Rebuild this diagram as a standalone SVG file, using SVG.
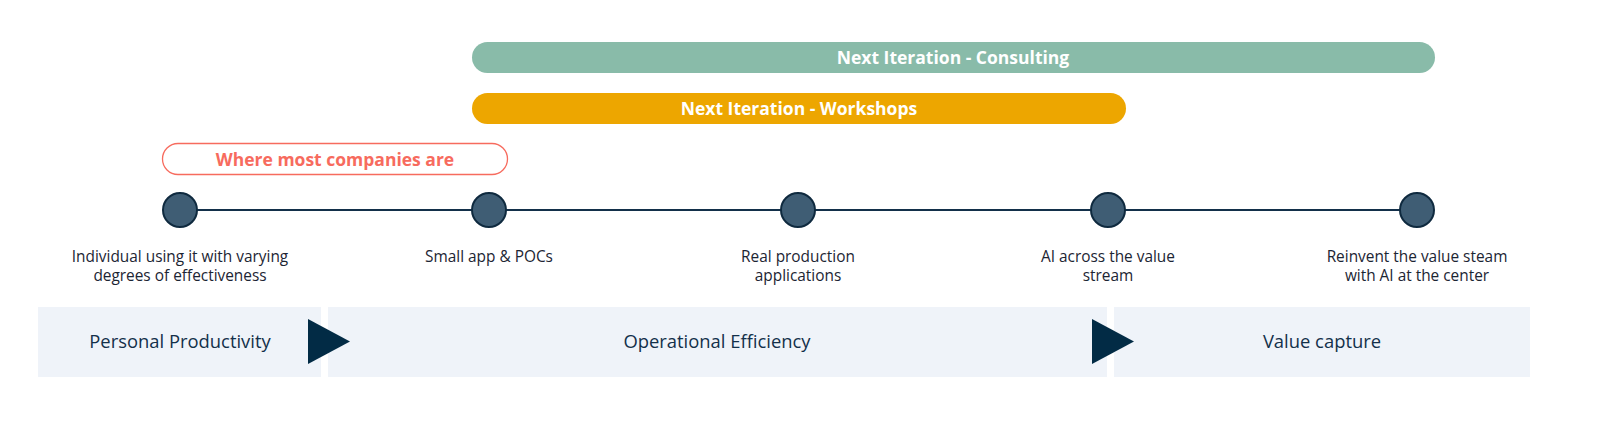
<svg xmlns="http://www.w3.org/2000/svg" width="1600" height="424" viewBox="0 0 1600 424">
<style>
.t{font-family:"Open Sans","Liberation Sans",sans-serif;font-size:15.4px;fill:#1c2533;text-anchor:middle}
.b{font-family:"Open Sans","Liberation Sans",sans-serif;font-size:17.5px;font-weight:700;text-anchor:middle}
.p{font-family:"Open Sans","Liberation Sans",sans-serif;font-size:18.4px;fill:#13304a;text-anchor:middle}
.band{fill:#eff3f9}
.node{fill:#3f5d74;stroke:#0f2a3f;stroke-width:2}
.tri{fill:#022b45}
</style>
<rect width="1600" height="424" fill="#fff"/>
<g id="consulting"><rect x="472" y="42" width="963" height="31" rx="15.5" fill="#89bba9"/><text class="b" x="953" y="63.5" fill="#fff">Next Iteration - Consulting</text></g>
<g id="workshops"><rect x="472" y="93" width="654" height="31" rx="15.5" fill="#eda600"/><text class="b" x="799" y="114.5" fill="#fff">Next Iteration - Workshops</text></g>
<g id="where"><rect x="162.5" y="143.5" width="345" height="31" rx="15.5" fill="#fff" stroke="#f76b5e" stroke-width="1.3"/><text class="b" x="335" y="165.5" fill="#f76b5e">Where most companies are</text></g>
<g id="connectors"><line x1="180" y1="210" x2="1417" y2="210" stroke="#13304a" stroke-width="2"/></g>
<g id="n1"><circle class="node" cx="180" cy="210" r="17"/><text class="t" x="180" y="262">Individual using it with varying</text><text class="t" x="180" y="281">degrees of effectiveness</text></g>
<g id="n2"><circle class="node" cx="489" cy="210" r="17"/><text class="t" x="489" y="262">Small app &amp; POCs</text></g>
<g id="n3"><circle class="node" cx="798" cy="210" r="17"/><text class="t" x="798" y="262">Real production</text><text class="t" x="798" y="281">applications</text></g>
<g id="n4"><circle class="node" cx="1108" cy="210" r="17"/><text class="t" x="1108" y="262">AI across the value</text><text class="t" x="1108" y="281">stream</text></g>
<g id="n5"><circle class="node" cx="1417" cy="210" r="17"/><text class="t" x="1417" y="262">Reinvent the value steam</text><text class="t" x="1417" y="281">with AI at the center</text></g>
<g id="phase1"><rect class="band" x="38" y="307" width="283" height="70"/><text class="p" x="180" y="348">Personal Productivity</text></g>
<g id="phase2"><rect class="band" x="328" y="307" width="779" height="70"/><text class="p" x="717" y="348">Operational Efficiency</text></g>
<g id="phase3"><rect class="band" x="1114" y="307" width="416" height="70"/><text class="p" x="1322" y="348">Value capture</text></g>
<g id="arrows"><polygon class="tri" points="308,319 350,341.5 308,364"/><polygon class="tri" points="1092,319 1134,341.5 1092,364"/></g>
</svg>
